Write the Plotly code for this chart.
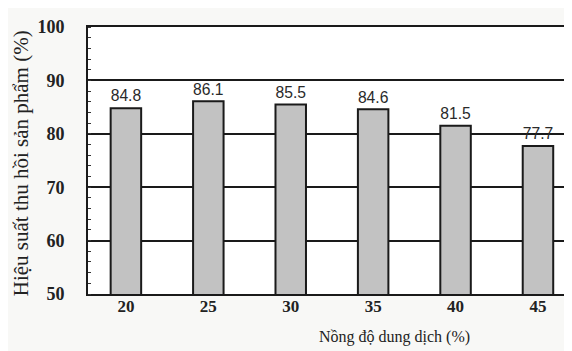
import plotly.graph_objects as go

categories = ["20", "25", "30", "35", "40", "45"]
values = [84.8, 86.1, 85.5, 84.6, 81.5, 77.7]
value_labels = ["84.8", "86.1", "85.5", "84.6", "81.5", "77.7"]
y_ticks = [50, 60, 70, 80, 90, 100]

fig = go.Figure()
fig.add_trace(go.Bar(
    x=categories, y=values, width=0.37,
    marker=dict(color="#c2c2c2", line=dict(color="#1a1a1a", width=2)),
    text=value_labels, textposition="outside", cliponaxis=False,
    textfont=dict(family="Liberation Sans, Arial", size=17, color="#2a2a2a"),
))

fig.update_layout(
    width=572, height=351,
    margin=dict(l=80, r=0, t=19, b=65),
    paper_bgcolor="#f8f8f6", plot_bgcolor="#ffffff",
    showlegend=False,
)
fig.update_xaxes(
    type="category", range=[-0.46, 5.51],
    showline=True, linecolor="#1a1a1a", linewidth=2, mirror=True,
    ticks="", showgrid=False, ticklabelstandoff=-4,
    tickfont=dict(family="Liberation Serif", size=17, color="#222222", weight="bold"),
)
fig.update_yaxes(
    range=[50, 100], tickvals=y_ticks,
    showline=True, linecolor="#1a1a1a", linewidth=2,
    showgrid=True, gridcolor="#1a1a1a", gridwidth=2,
    ticks="", ticklabelstandoff=18,
    minor=dict(ticks="inside", dtick=2, ticklen=3, tickcolor="#333333", showgrid=False),
    tickfont=dict(family="Liberation Serif", size=18, color="#222222", weight="bold"),
    zeroline=False,
)
fig.add_annotation(
    text="Hiệu suất thu hồi sản phẩm (%)", textangle=-90,
    xref="paper", yref="paper", x=-0.136, y=0.49, xanchor="center", yanchor="middle",
    showarrow=False, font=dict(family="Liberation Serif", size=21, color="#222222"),
)
fig.add_annotation(
    text="Nồng độ dung dịch (%)",
    xref="paper", yref="paper", x=0.622, y=-0.161, xanchor="center", yanchor="middle",
    showarrow=False, font=dict(family="Liberation Serif", size=16, color="#222222"),
)
fig.write_html("out.html")
